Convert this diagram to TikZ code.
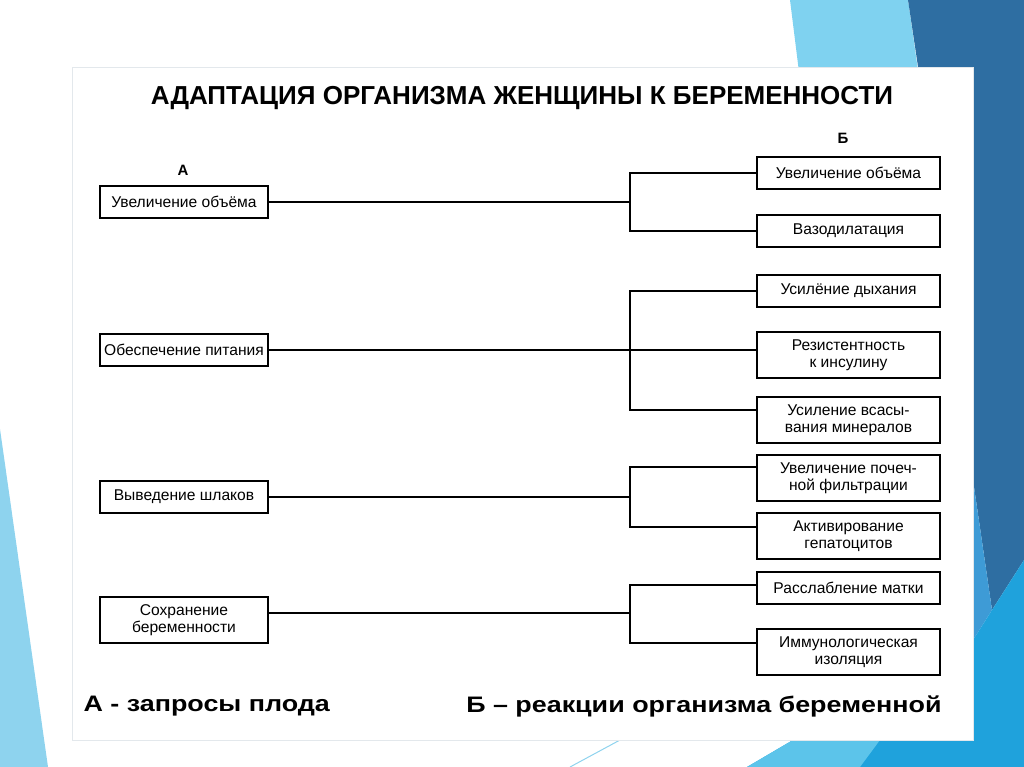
\documentclass[tikz,border=0pt]{standalone}
\usepackage{fontspec}
\setmainfont{Liberation Sans}
\newfontfamily\widefont[FakeStretch=1.2]{Liberation Sans}
\usepackage{tikz}
\usetikzlibrary{positioning, calc}

\definecolor{skyband}{HTML}{7FD2F0}
\definecolor{deepband}{HTML}{2E6EA2}
\definecolor{brightband}{HTML}{1FA2DC}
\definecolor{midband}{HTML}{3E9BD6}
\definecolor{paleband}{HTML}{8ED3EE}
\definecolor{lightband}{HTML}{5CC4EA}
\definecolor{slideedge}{HTML}{E3E8EC}

\tikzset{
  box/.style={draw, line width=1.3pt, minimum width=168pt, minimum height=32pt,
    inner sep=0pt, align=center, font=\fontsize{15.6}{17}\selectfont},
  rbox/.style={box, minimum width=183pt},
  tall/.style={minimum height=46pt},
  link/.style={line width=1.3pt}
}

\begin{document}
\begin{tikzpicture}[x=1pt,y=-1pt]
  \useasboundingbox (0,0) rectangle (1024,767);

  % Background bands
  \fill[skyband] (790,0) -- (908,0) -- (925,120) -- (805,120) -- cycle;
  \fill[deepband] (908,0) -- (1024,0) -- (1024,560) -- (992,610) -- (973,480) -- (935,180) -- cycle;
  \fill[midband] (973,480) -- (992,610) -- (973,640) -- cycle;
  \fill[brightband] (1024,560) -- (1024,767) -- (747,767) -- (793,740) -- (973,740) -- (973,640) -- (992,610) -- cycle;
  \fill[lightband] (747,767) -- (793,740) -- (880,740) -- (860,767) -- cycle;
  \draw[paleband, line width=1pt] (570,767) -- (620,740);
  \fill[paleband] (0,429) -- (48,767) -- (0,767) -- cycle;

  % Slide
  \filldraw[fill=white, draw=slideedge] (72,67) rectangle (973,740);

  % Title and column labels
  \node[font=\bfseries\fontsize{26}{28}\selectfont] (title) at (522,98) {АДАПТАЦИЯ ОРГАНИЗМА ЖЕНЩИНЫ К БЕРЕМЕННОСТИ};
  \node[font=\bfseries\fontsize{15}{16}\selectfont] (labA) at (183,170) {А};
  \node[font=\bfseries\fontsize{15}{16}\selectfont] (labB) at (843,138) {Б};

  % Left column
  \node[box] (l1) at (184,202) {Увеличение объёма};
  \node[box] (l2) at (184,350) {Обеспечение питания};
  \node[box] (l3) at (184,497) {Выведение шлаков};
  \node[box, tall] (l4) at (184,620) {Сохранение\\беременности};

  % Right column
  \node[rbox] (r1) at (848.5,173) {Увеличение объёма};
  \node[rbox] (r2) at (848.5,231) {Вазодилатация};
  \node[rbox] (r3) at (848.5,291) {Усилёние дыхания};
  \node[rbox, tall] (r4) at (848.5,355) {Резистентность\\к инсулину};
  \node[rbox, tall] (r5) at (848.5,420) {Усиление всасы-\\вания минералов};
  \node[rbox, tall] (r6) at (848.5,478) {Увеличение почеч-\\ной фильтрации};
  \node[rbox, tall] (r7) at (848.5,536) {Активирование\\гепатоцитов};
  \node[rbox] (r8) at (848.5,588) {Расслабление матки};
  \node[rbox, tall] (r9) at (848.5,652) {Иммунологическая\\изоляция};

  % Junctions
  \coordinate (j1) at (630,202);
  \coordinate (j2) at (630,350);
  \coordinate (j3) at (630,497);
  \coordinate (j4) at (630,613);

  % Connectors
  \draw[link] (l1) -- (j1);
  \draw[link] (r1) -| (j1) |- (r2);
  \draw[link] (l2) -- (l2.east -| r4.west);
  \draw[link] (r3) -| (j2) |- ([yshift=10pt]r5.west);
  \draw[link] (l3) -- (j3);
  \draw[link] ([yshift=11pt]r6.west) -| (j3) |- ([yshift=9pt]r7.west);
  \draw[link] ([yshift=7pt]l4.east) -- (j4);
  \draw[link] ([yshift=3pt]r8.west) -| (j4) |- ([yshift=9pt]r9.west);

  % Legend
  \node[font=\widefont\bfseries\fontsize{22.4}{25}\selectfont, anchor=west] (footA) at (80,706) {А - запросы плода};
  \node[font=\widefont\bfseries\fontsize{22.4}{25}\selectfont, anchor=east] (footB) at (945,706) {Б – реакции организма беременной};
\end{tikzpicture}
\end{document}
